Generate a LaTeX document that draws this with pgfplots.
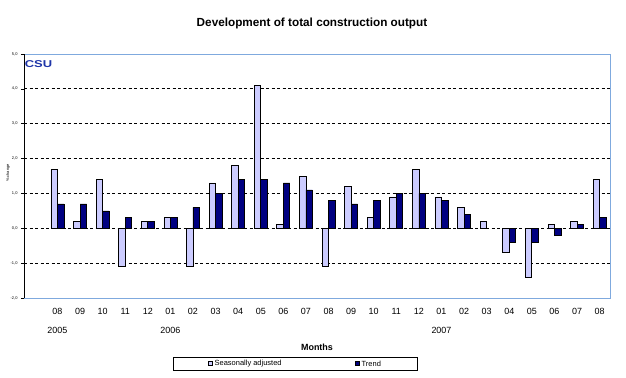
\documentclass[border=0pt]{standalone}
\usepackage{pgfplots}
\pgfplotsset{compat=1.18}
\usepackage{fontspec}
\setmainfont{Liberation Sans}
\definecolor{saf}{HTML}{CCCCFF}
\definecolor{trn}{HTML}{000080}
\definecolor{frame}{HTML}{7FA9DE}
\definecolor{csublue}{HTML}{1F35A8}

\begin{document}
\begin{tikzpicture}
% page = 626 x 378, plot box lower-left at (0,0)
\path (-24bp,-80bp) rectangle (602bp,298bp);
\begin{axis}[
  scale only axis, width=586bp, height=244bp,
  xmin=-1.48, xmax=24.46, ymin=-2, ymax=5,
  ybar, bar width=6.5bp,
  xtick={0,...,24},
  xticklabels={08,09,10,11,12,01,02,03,04,05,06,07,08,09,10,11,12,01,02,03,04,05,06,07,08},
  xticklabel style={font=\fontsize{9}{10}\selectfont, yshift=-4bp},
  x tick style={draw=none},
  ytick={-2,...,5},
  ytick pos=left, tick align=outside, major tick length=3bp,
  y tick style={black, line width=0.6bp},
  yticklabel style={font=\fontsize{4}{5}\selectfont},
  /pgf/number format/fixed, /pgf/number format/zerofill,
  /pgf/number format/precision=1, /pgf/number format/use comma,
  /pgf/number format/assume math mode=true,
  ymajorgrids, grid style={black, line width=0.8bp, dash pattern=on 3bp off 2.5bp},
  axis line style={draw=none},
  clip=false,
]
% seasonally adjusted, % change on previous month
\addplot[fill=saf, draw=black, line width=0.7bp, bar shift=-3.25bp] coordinates {
  (0,1.7) (1,0.2) (2,1.4) (3,-1.1) (4,0.2) (5,0.3) (6,-1.1) (7,1.3) (8,1.8)
  (9,4.1) (10,0.1) (11,1.5) (12,-1.1) (13,1.2) (14,0.3) (15,0.9) (16,1.7)
  (17,0.9) (18,0.6) (19,0.2) (20,-0.7) (21,-1.4) (22,0.1) (23,0.2) (24,1.4)};
% trend
\addplot[fill=trn, draw=black, line width=0.7bp, bar shift=3.25bp] coordinates {
  (0,0.7) (1,0.7) (2,0.5) (3,0.3) (4,0.2) (5,0.3) (6,0.6) (7,1.0) (8,1.4)
  (9,1.4) (10,1.3) (11,1.1) (12,0.8) (13,0.7) (14,0.8) (15,1.0) (16,1.0)
  (17,0.8) (18,0.4) (20,-0.4) (21,-0.4) (22,-0.2) (23,0.1) (24,0.3)};

\draw[frame, line width=1bp] (rel axis cs:0,0) -- (rel axis cs:1,0)
  -- (rel axis cs:1,1) -- (rel axis cs:0,1);
\draw[black, line width=1bp] (rel axis cs:0,0) -- (rel axis cs:0,1);

\node[font=\fontsize{9}{10}\selectfont] at ([yshift=-32bp]axis cs:0,-2) {2005};
\node[font=\fontsize{9}{10}\selectfont] at ([yshift=-32bp]axis cs:5,-2) {2006};
\node[font=\fontsize{9}{10}\selectfont] at ([yshift=-32bp]axis cs:17,-2) {2007};
\end{axis}

\node[font=\bfseries\fontsize{11.8}{13}\selectfont] at (288bp,275bp)
  {Development of total construction output};
\node[font=\bfseries\fontsize{9}{10}\selectfont] at (293bp,-49bp) {Months};
\node[rotate=90, font=\fontsize{4}{5}\selectfont] at (-16bp,125bp) {\% change};
\node[font=\bfseries\fontsize{10}{11}\selectfont, text=csublue, xscale=1.3]
  at (14.5bp,234bp) {CSU};

% legend
\draw[black, line width=0.8bp] (149bp,-59bp) rectangle (393bp,-72bp);
\draw[black, fill=saf, line width=0.6bp] (184bp,-63.5bp) rectangle (188bp,-67.5bp);
\node[anchor=west, inner sep=0pt, font=\fontsize{7.5}{9}\selectfont] at (190.5bp,-65.5bp)
  {Seasonally adjusted};
\draw[black, fill=trn, line width=0.6bp] (331bp,-63.5bp) rectangle (335bp,-67.5bp);
\node[anchor=west, inner sep=0pt, font=\fontsize{7.5}{9}\selectfont] at (337.5bp,-65.5bp)
  {Trend};
\end{tikzpicture}
\end{document}
